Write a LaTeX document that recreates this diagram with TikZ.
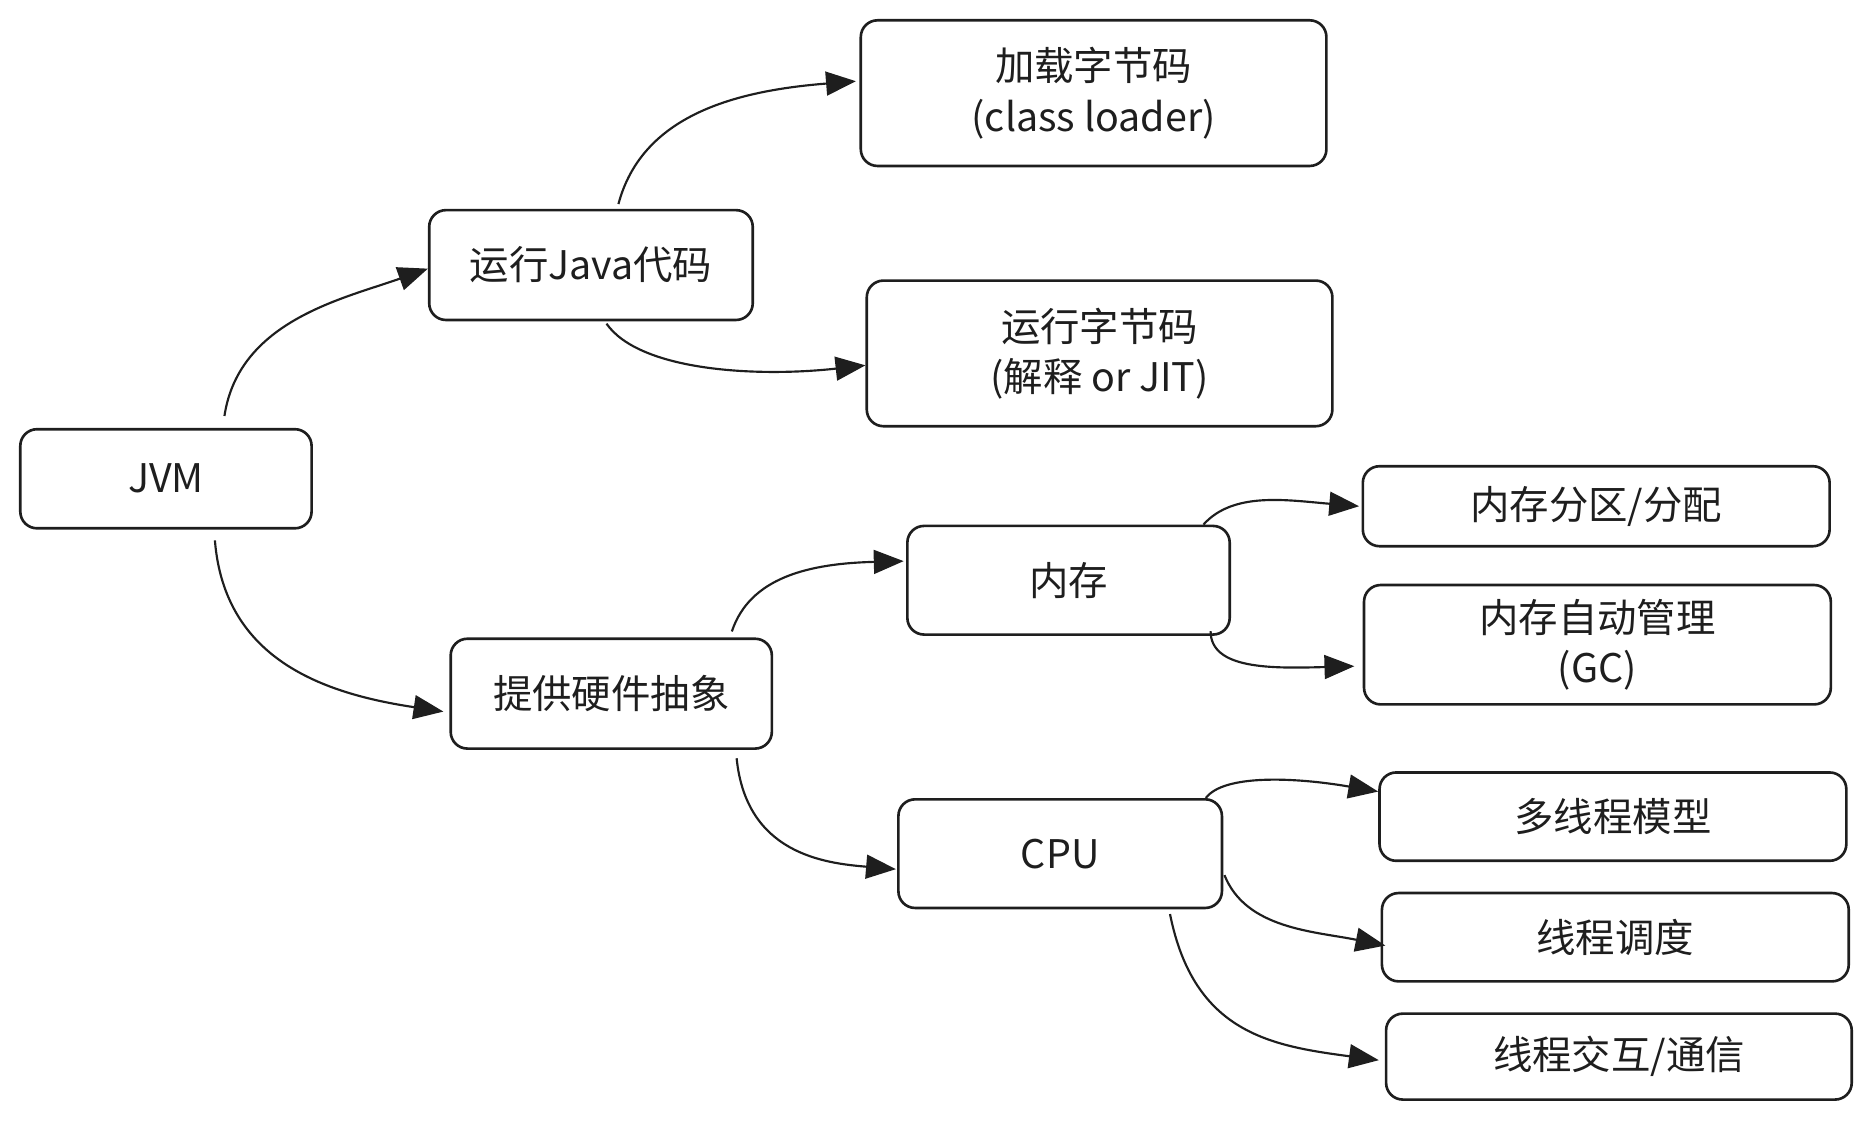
\documentclass[tikz,border=0pt]{standalone}
\usepackage{fontspec}
\setmainfont{Noto Sans CJK SC}
\usetikzlibrary{arrows.meta,calc}
\definecolor{ink}{HTML}{1E1E1E}
\tikzset {
  >={Triangle[length=12.5pt,width=10pt]},
  every node/.style={font=\fontsize{16.5}{21}\selectfont, text=ink},
  box/.style={draw=ink, line width=1.1pt, rounded corners=7pt, align=center, inner sep=0pt},
  link/.style={->, draw=ink, line width=0.9pt},
}

\begin{document}
\begin{tikzpicture}[x=0.5pt,y=-0.5pt]
  \useasboundingbox (0,0) rectangle (1568,939);
  \node[box,minimum width=122pt,minimum height=41.5pt] (jvm) at (139,401) {JVM};
  \node[box,minimum width=135.5pt,minimum height=46pt] (java) at (495,222) {运行Java代码};
  \node[box,minimum width=195pt,minimum height=61pt] (load) at (916,78) {加载字节码\\(class loader)};
  \node[box,minimum width=195pt,minimum height=61pt] (exec) at (921,296) {运行字节码\\(解释 or JIT)};
  \node[box,minimum width=134.5pt,minimum height=46pt] (hw) at (512,581) {提供硬件抽象};
  \node[box,minimum width=135pt,minimum height=45.5pt] (mem) at (895,486) {内存};
  \node[box,minimum width=195.5pt,minimum height=33.5pt] (memalloc) at (1337,424) {内存分区/分配};
  \node[box,minimum width=195.5pt,minimum height=50pt] (gc) at (1338,540) {内存自动管理\\(GC)};
  \node[box,minimum width=135.5pt,minimum height=45.5pt] (cpu) at (888,715) {CPU};
  \node[box,minimum width=195.5pt,minimum height=37pt] (thread) at (1351,684) {多线程模型};
  \node[box,minimum width=195.5pt,minimum height=37pt] (sched) at (1353,785) {线程调度};
  \node[box,minimum width=195pt,minimum height=36pt] (comm) at (1356,885) {线程交互/通信};

  \draw[link] ($(jvm.north)+(49,-10)$) .. controls +(12,-80) and +(-70,25) .. ($(java.west)+(0,3)$);
  \draw[link] ($(jvm.south)+(41,9)$) .. controls +(8,100) and +(-100,-15) .. ($(hw.west)+(-5,15)$);
  \draw[link] ($(java.north)+(23,-4)$) .. controls +(20,-75) and +(-100,8) .. ($(load.west)+(-3,-10)$);
  \draw[link] ($(java.south)+(13,2)$) .. controls +(28,40) and +(-90,10) .. ($(exec.west)+(0,10)$);
  \draw[link] ($(hw.north)+(101,-5)$) .. controls +(15,-45) and +(-80,2) .. ($(mem.west)+(-2,-16)$);
  \draw[link] ($(hw.south)+(105,7)$) .. controls +(8,80) and +(-60,-5) .. ($(cpu.west)+(-1,13)$);
  \draw[link] ($(mem.north)+(113,0)$) .. controls +(25,-28) and +(-60,-5) .. ($(memalloc.west)+(-2,0)$);
  \draw[link] ($(mem.south)+(119,-4)$) .. controls +(0,32) and +(-70,2) .. ($(gc.west)+(-7,18)$);
  \draw[link] ($(cpu.north)+(122,0)$) .. controls +(15,-20) and +(-70,-12) .. ($(thread.west)+(0,-21)$);
  \draw[link] ($(cpu.east)+(1,18)$) .. controls +(18,45) and +(-60,-12) .. ($(sched.west)+(4,7)$);
  \draw[link] ($(cpu.south)+(92,4)$) .. controls +(20,100) and +(-90,-12) .. ($(comm.west)+(-5,3)$);
\end{tikzpicture}
\end{document}
